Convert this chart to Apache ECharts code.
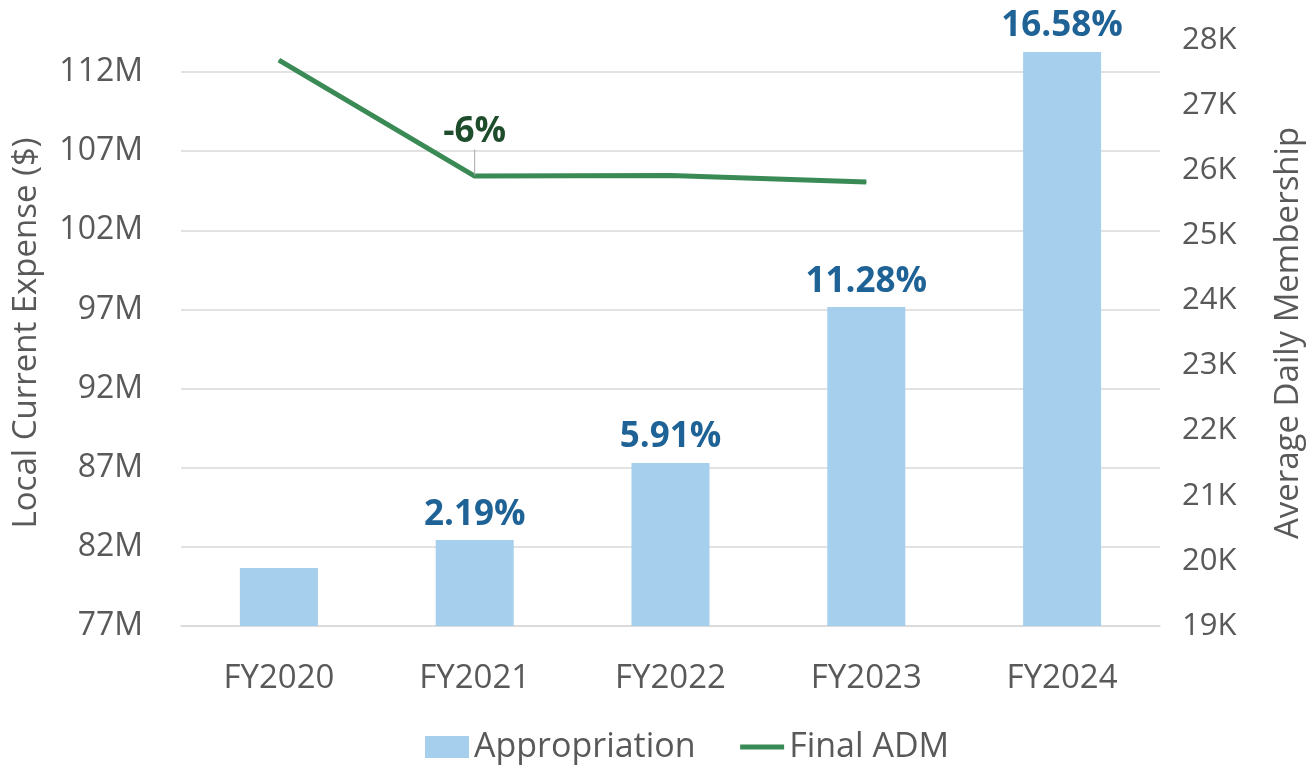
<!DOCTYPE html>
<html>
<head>
<meta charset="utf-8">
<script src="https://cdn.jsdelivr.net/npm/echarts@6/dist/echarts.min.js"></script>
<style>
  html, body { margin: 0; padding: 0; background: #fff; }
  #chart { width: 1313px; height: 765px; }
</style>
</head>
<body>
<div id="chart"></div>
<script>
// 数据
const categories = ['FY2020', 'FY2021', 'FY2022', 'FY2023', 'FY2024'];
const appropriation = [80.66e6, 82.43e6, 87.30e6, 97.15e6, 113.26e6];
const appropriationLabels = ['', '2.19%', '5.91%', '11.28%', '16.58%'];
const finalADM = [27690, 25910, 25920, 25820, null];
const admLabels = ['', '-6%', '', '', ''];

const FONT = '"Open Sans", "Noto Sans", sans-serif';
const GRAY = '#595959';

const chart = echarts.init(document.getElementById('chart'));

// 柱状数据（带百分比标签）
const barData = appropriation.map((v, i) => ({
    value: v,
    label: { show: appropriationLabels[i] !== '', formatter: appropriationLabels[i] }
}));

// 折线数据（-6% 标签带引导线）
const lineData = finalADM.map((v, i) => {
    if (!admLabels[i]) return v;
    return {
        value: v,
        label: { show: true, formatter: admLabels[i] },
        labelLine: { show: true, lineStyle: { color: '#a6a6a6', width: 1 } }
    };
});

chart.setOption({
    animation: false,
    textStyle: { fontFamily: FONT },
    grid: { left: 181, right: 150, top: 40, bottom: 139 },
    legend: {
        bottom: -4,
        left: 420,
        itemGap: 42,
        itemWidth: 44,
        itemHeight: 22,
        textStyle: { fontSize: 34, color: GRAY, fontFamily: FONT },
        data: [
            { name: 'Appropriation', icon: 'rect' },
            { name: 'Final ADM', itemStyle: { opacity: 0 }, lineStyle: { width: 5 } }
        ]
    },
    xAxis: {
        type: 'category',
        data: categories,
        axisLine: { lineStyle: { color: '#d9d9d9', width: 1.5 } },
        axisTick: { show: false },
        axisLabel: { color: GRAY, fontSize: 33, margin: 36, fontFamily: FONT }
    },
    yAxis: [
        {
            type: 'value',
            min: 77e6,
            max: 114.02e6,
            interval: 5e6,
            name: 'Local Current Expense ($)',
            nameLocation: 'middle',
            nameGap: 138,
            nameTextStyle: { fontSize: 33, color: GRAY, fontFamily: FONT },
            axisLine: { show: false },
            axisTick: { show: false },
            axisLabel: {
                color: GRAY, fontSize: 32, margin: 38, fontFamily: FONT,
                showMaxLabel: false,
                formatter: v => Math.round(v / 1e6) + 'M'
            },
            splitLine: { lineStyle: { color: '#d9d9d9', width: 1.5 }, showMaxLine: false }
        },
        {
            type: 'value',
            min: 19000,
            max: 28000,
            interval: 1000,
            name: 'Average Daily Membership',
            nameLocation: 'middle',
            nameGap: 112,
            nameTextStyle: { fontSize: 33, color: GRAY, fontFamily: FONT },
            axisLine: { show: false },
            axisTick: { show: false },
            axisLabel: {
                color: GRAY, fontSize: 31, margin: 22, fontFamily: FONT,
                formatter: v => Math.round(v / 1000) + 'K'
            },
            splitLine: { show: false }
        }
    ],
    series: [
        {
            name: 'Appropriation',
            type: 'bar',
            yAxisIndex: 0,
            barWidth: 78,
            data: barData,
            itemStyle: { color: '#a6cfee' },
            label: {
                position: 'top',
                distance: 8,
                color: '#1f6296',
                fontSize: 35,
                fontWeight: 'bold',
                fontFamily: FONT
            }
        },
        {
            name: 'Final ADM',
            type: 'line',
            yAxisIndex: 1,
            data: lineData,
            symbol: 'circle',
            symbolSize: 1,
            showSymbol: true,
            connectNulls: false,
            lineStyle: { color: '#3a8a55', width: 5 },
            itemStyle: { color: '#3a8a55' },
            label: {
                position: 'top',
                distance: 4,
                color: '#1e4d2b',
                fontSize: 35,
                fontWeight: 'bold',
                fontFamily: FONT
            },
            labelLayout: { dy: -22 }
        }
    ]
});
</script>
</body>
</html>
